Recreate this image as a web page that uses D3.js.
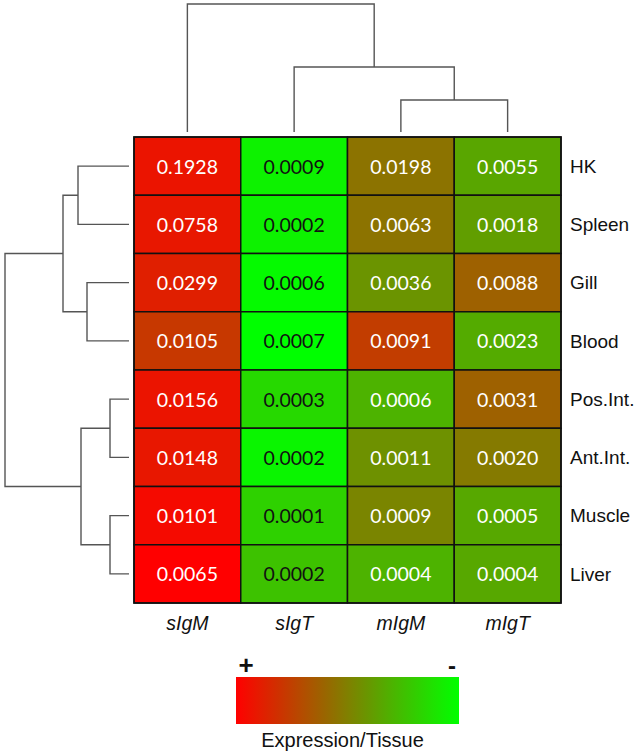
<!DOCTYPE html>
<html>
<head>
<meta charset="utf-8">
<script src="https://cdn.jsdelivr.net/npm/d3@7"></script>
<style>
  html, body { margin: 0; padding: 0; background: #ffffff; }
  svg { display: block; }
</style>
</head>
<body>
<svg id="chart" width="641" height="756"></svg>
<script>
// ---------- data ----------
const columns = ["sIgM", "sIgT", "mIgM", "mIgT"];
const rows = ["HK", "Spleen", "Gill", "Blood", "Pos.Int.", "Ant.Int.", "Muscle", "Liver"];

// expression values (row = tissue, in column order)
const valHK      = [0.1928, 0.0009, 0.0198, 0.0055];
const valSpleen  = [0.0758, 0.0002, 0.0063, 0.0018];
const valGill    = [0.0299, 0.0006, 0.0036, 0.0088];
const valBlood   = [0.0105, 0.0007, 0.0091, 0.0023];
const valPosInt  = [0.0156, 0.0003, 0.0006, 0.0031];
const valAntInt  = [0.0148, 0.0002, 0.0011, 0.0020];
const valMuscle  = [0.0101, 0.0001, 0.0009, 0.0005];
const valLiver   = [0.0065, 0.0002, 0.0004, 0.0004];
const values = [valHK, valSpleen, valGill, valBlood, valPosInt, valAntInt, valMuscle, valLiver];

// colour score (0 = red "+", 1 = green "-")
const scoreHK     = [0.08, 0.95, 0.45, 0.65];
const scoreSpleen = [0.09, 0.95, 0.45, 0.62];
const scoreGill   = [0.12, 0.98, 0.58, 0.38];
const scoreBlood  = [0.22, 1.00, 0.24, 0.67];
const scorePosInt = [0.08, 0.85, 0.70, 0.38];
const scoreAntInt = [0.09, 0.96, 0.57, 0.48];
const scoreMuscle = [0.04, 0.82, 0.52, 0.66];
const scoreLiver  = [0.00, 0.76, 0.70, 0.66];
const scores = [scoreHK, scoreSpleen, scoreGill, scoreBlood, scorePosInt, scoreAntInt, scoreMuscle, scoreLiver];

// dendrograms (merge heights, arbitrary distance units)
const rowTree = {h: 124, children: [
  {h: 66, children: [
    {h: 51, children: [{leaf: "HK"}, {leaf: "Spleen"}]},
    {h: 42, children: [{leaf: "Gill"}, {leaf: "Blood"}]}
  ]},
  {h: 48, children: [
    {h: 19, children: [{leaf: "Pos.Int."}, {leaf: "Ant.Int."}]},
    {h: 19, children: [{leaf: "Muscle"}, {leaf: "Liver"}]}
  ]}
]};
const colTree = {h: 128, children: [
  {leaf: "sIgM"},
  {h: 65, children: [
    {leaf: "sIgT"},
    {h: 32, children: [{leaf: "mIgM"}, {leaf: "mIgT"}]}
  ]}
]};

const legendLabels = ["+", "-"];
const legendTitle = "Expression/Tissue";

// ---------- layout ----------
const svg = d3.select("#chart");
const hm = {x0: 134, x1: 561, y0: 137, y1: 603};

const x = d3.scaleBand().domain(columns).range([hm.x0, hm.x1]).padding(0);
const y = d3.scaleBand().domain(rows).range([hm.y0, hm.y1]).padding(0);
const color = d3.scaleLinear().domain([0, 1]).range(["#ff0000", "#00ff00"]).interpolate(d3.interpolateRgb);

// ---------- heatmap cells ----------
const cells = [];
rows.forEach((r, i) => columns.forEach((c, j) => cells.push({r, c, v: values[i][j], s: scores[i][j]})));

svg.append("g").selectAll("rect").data(cells).join("rect")
  .attr("x", d => x(d.c)).attr("y", d => y(d.r))
  .attr("width", x.bandwidth()).attr("height", y.bandwidth())
  .attr("fill", d => color(d.s))
  .attr("stroke", "#111").attr("stroke-width", 1.5);

svg.append("g").selectAll("text").data(cells).join("text")
  .attr("x", d => x(d.c) + x.bandwidth() / 2)
  .attr("y", d => y(d.r) + y.bandwidth() / 2)
  .attr("dy", "0.38em")
  .attr("text-anchor", "middle")
  .attr("font-family", "Lato, 'Open Sans', sans-serif")
  .attr("font-size", 19.5)
  .attr("fill", d => d.s > 0.73 ? "#111" : "#ffffff")
  .text(d => d3.format(".4f")(d.v));

svg.append("rect")
  .attr("x", hm.x0).attr("y", hm.y0)
  .attr("width", hm.x1 - hm.x0).attr("height", hm.y1 - hm.y0)
  .attr("fill", "none").attr("stroke", "#111").attr("stroke-width", 1.5);

// ---------- labels ----------
svg.append("g").selectAll("text").data(rows).join("text")
  .attr("x", hm.x1 + 9)
  .attr("y", d => y(d) + y.bandwidth() / 2)
  .attr("dy", "0.36em")
  .attr("font-family", "'Liberation Sans', Arial, sans-serif")
  .attr("font-size", 19)
  .attr("fill", "#111")
  .text(d => d);

svg.append("g").selectAll("text").data(columns).join("text")
  .attr("x", d => x(d) + x.bandwidth() / 2)
  .attr("y", hm.y1 + 27)
  .attr("text-anchor", "middle")
  .attr("font-family", "'Liberation Sans', Arial, sans-serif")
  .attr("font-style", "italic")
  .attr("font-size", 19.5)
  .attr("fill", "#111")
  .text(d => d);

// ---------- dendrograms ----------
const lineColor = "#555";
function layoutTree(node, leafPos) {
  if (node.leaf) { node.pos = leafPos(node.leaf); node.h = 0; return node; }
  node.children.forEach(ch => layoutTree(ch, leafPos));
  node.pos = d3.mean(node.children, ch => ch.pos);
  return node;
}

// row dendrogram (left)
const rowH = d3.scaleLinear().domain([0, 124]).range([129, 5]);
layoutTree(rowTree, r => y(r) + y.bandwidth() / 2);
const rowPaths = [];
(function walk(n) {
  if (!n.children) return;
  const a = n.children[0], b = n.children[n.children.length - 1];
  rowPaths.push(`M${rowH(a.h)},${a.pos}H${rowH(n.h)}V${b.pos}H${rowH(b.h)}`);
  n.children.forEach(walk);
})(rowTree);
svg.append("g").selectAll("path").data(rowPaths).join("path")
  .attr("d", d => d).attr("fill", "none")
  .attr("stroke", lineColor).attr("stroke-width", 1.4);

// column dendrogram (top)
const colH = d3.scaleLinear().domain([0, 128]).range([132, 4]);
layoutTree(colTree, c => x(c) + x.bandwidth() / 2);
const colPaths = [];
(function walk(n) {
  if (!n.children) return;
  const a = n.children[0], b = n.children[n.children.length - 1];
  colPaths.push(`M${a.pos},${colH(a.h)}V${colH(n.h)}H${b.pos}V${colH(b.h)}`);
  n.children.forEach(walk);
})(colTree);
svg.append("g").selectAll("path").data(colPaths).join("path")
  .attr("d", d => d).attr("fill", "none")
  .attr("stroke", lineColor).attr("stroke-width", 1.4);

// ---------- legend ----------
const lg = {x0: 236, x1: 459, y0: 677, y1: 724};
const defs = svg.append("defs");
const grad = defs.append("linearGradient").attr("id", "lgGrad").attr("x1", "0%").attr("x2", "100%");
d3.range(0, 1.0001, 0.1).forEach(t => {
  grad.append("stop").attr("offset", (t * 100) + "%").attr("stop-color", color(t));
});
svg.append("rect")
  .attr("x", lg.x0).attr("y", lg.y0)
  .attr("width", lg.x1 - lg.x0).attr("height", lg.y1 - lg.y0)
  .attr("fill", "url(#lgGrad)");

const legScale = d3.scaleLinear().domain([0, 1]).range([lg.x0 + 10, lg.x1 - 7]);
svg.append("g").selectAll("text").data(legendLabels).join("text")
  .attr("x", (d, i) => legScale(i))
  .attr("y", lg.y0 - 3)
  .attr("text-anchor", "middle")
  .attr("font-family", "'Liberation Sans', Arial, sans-serif")
  .attr("font-weight", "bold")
  .attr("font-size", (d, i) => i === 0 ? 26 : 24)
  .attr("fill", "#111")
  .text(d => d);

svg.append("text")
  .attr("x", (lg.x0 + lg.x1) / 2 - 5)
  .attr("y", 747)
  .attr("text-anchor", "middle")
  .attr("font-family", "'Liberation Sans', Arial, sans-serif")
  .attr("font-size", 20)
  .attr("fill", "#111")
  .text(legendTitle);
</script>
</body>
</html>
